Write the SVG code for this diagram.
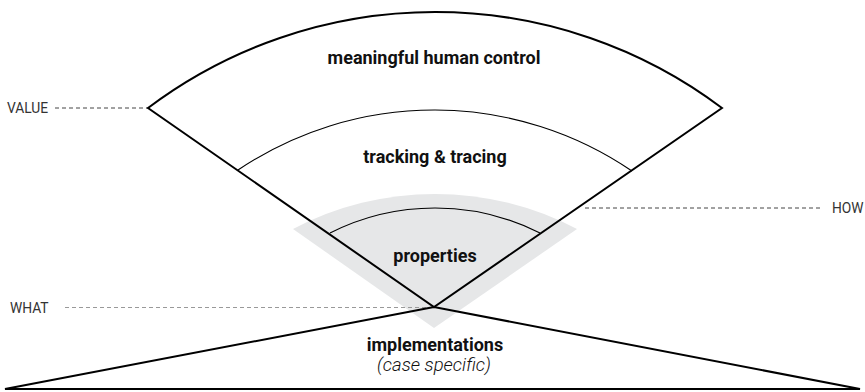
<svg xmlns="http://www.w3.org/2000/svg" width="865" height="392" viewBox="0 0 865 392">
<style>
.bold{font-family:Roboto,"Liberation Sans",sans-serif;font-weight:700;font-size:18px;fill:#111;text-anchor:middle}
.ital{font-family:Roboto,"Liberation Sans",sans-serif;font-weight:300;font-style:italic;font-size:18.5px;fill:#111;text-anchor:middle}
.lab{font-family:Roboto,"Liberation Sans",sans-serif;font-weight:400;font-size:13.8px;fill:#333}
.dash{stroke:#444;stroke-width:1;stroke-dasharray:4 3;fill:none}
.dashl{stroke:#999;stroke-width:1;stroke-dasharray:4 3;fill:none}
.thick{stroke:#000;stroke-width:2;fill:none;stroke-linejoin:miter}
.thin{stroke:#000;stroke-width:1.1;fill:none}
</style>
<rect width="865" height="392" fill="#fff"/>
<g id="properties-bg">
<path d="M293,229 A305,305 0 0 1 577,229 L434,328 Z" fill="#e6e7e8"/>
</g>
<g id="connectors">
<line class="dash" x1="55" y1="108" x2="148" y2="108"/>
<line class="dash" x1="585" y1="208" x2="823" y2="208"/>
<line class="dashl" x1="65" y1="307.5" x2="434" y2="307.5"/>
</g>
<g id="meaningful-human-control">
<path class="thick" d="M148,108 A477,477 0 0 1 722,108 L434,307 Z"/>
<text class="bold" x="434" y="64">meaningful human control</text>
</g>
<g id="tracking-tracing">
<path class="thin" d="M238,170 A351,351 0 0 1 632,171"/>
<text class="bold" x="435" y="163">tracking &amp; tracing</text>
</g>
<g id="properties">
<path class="thin" d="M330,233 A233,233 0 0 1 540,233"/>
<text class="bold" x="435" y="262">properties</text>
</g>
<g id="implementations">
<path class="thick" d="M434,307 L5,389 L860,389 Z"/>
<text class="bold" x="435" y="351">implementations</text>
<text class="ital" x="434" y="371">(case specific)</text>
</g>
<g id="labels">
<text class="lab" x="7" y="113">VALUE</text>
<text class="lab" x="832" y="213">HOW</text>
<text class="lab" x="10" y="313">WHAT</text>
</g>
</svg>
